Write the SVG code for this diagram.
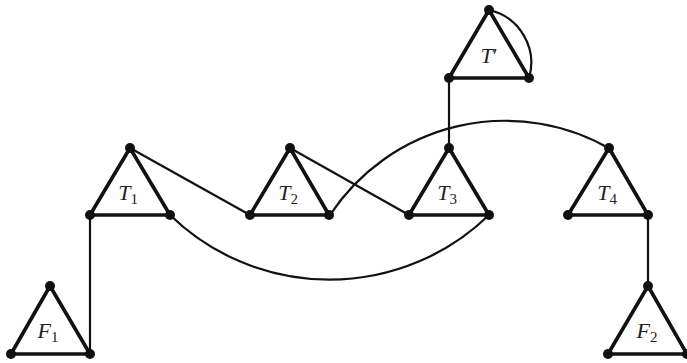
<svg xmlns="http://www.w3.org/2000/svg" width="687" height="363" viewBox="0 0 687 363">
<defs>
<style>
.tri{fill:none;stroke:#111;stroke-width:3.6;stroke-linejoin:round}
.dot{fill:#111}
.edge{fill:none;stroke:#111;stroke-width:2.2}
.lbl{font-family:"Liberation Serif","DejaVu Serif",serif;font-size:22px;fill:#222;text-anchor:middle}
.it{font-style:italic}
.sub{font-size:15px;font-style:normal}
</style>
</defs>
<rect width="687" height="363" fill="#fff"/>
<g id="connectors">
<line class="edge" x1="90" y1="354" x2="90" y2="215"/>
<line class="edge" x1="130" y1="148" x2="250" y2="215"/>
<line class="edge" x1="290" y1="148" x2="409" y2="215"/>
<line class="edge" x1="449" y1="148" x2="449" y2="78"/>
<line class="edge" x1="648" y1="215" x2="648" y2="285"/>
<path class="edge" d="M170,215 A229,229 0 0 0 489,215"/>
<path class="edge" d="M330,215 A210,210 0 0 1 612,150"/>
<path class="edge" d="M489,10 A54,54 0 0 1 529,78"/>
</g>
<g id="Tprime">
<polygon class="tri" points="489,10 449,78 529,78"/>
<circle class="dot" cx="489" cy="10" r="5"/><circle class="dot" cx="449" cy="78" r="5"/><circle class="dot" cx="529" cy="78" r="5"/>
<text class="lbl" x="489" y="63"><tspan class="it">T</tspan>′</text>
</g>
<g id="T1">
<polygon class="tri" points="130,148 90,215 170,215"/>
<circle class="dot" cx="130" cy="148" r="5"/><circle class="dot" cx="90" cy="215" r="5"/><circle class="dot" cx="170" cy="215" r="5"/>
<text class="lbl" x="128" y="200"><tspan class="it">T</tspan><tspan class="sub" dy="4">1</tspan></text>
</g>
<g id="T2">
<polygon class="tri" points="290,148 250,215 329,215"/>
<circle class="dot" cx="290" cy="148" r="5"/><circle class="dot" cx="250" cy="215" r="5"/><circle class="dot" cx="329" cy="215" r="5"/>
<text class="lbl" x="288" y="200"><tspan class="it">T</tspan><tspan class="sub" dy="4">2</tspan></text>
</g>
<g id="T3">
<polygon class="tri" points="449,148 409,215 489,215"/>
<circle class="dot" cx="449" cy="148" r="5"/><circle class="dot" cx="409" cy="215" r="5"/><circle class="dot" cx="489" cy="215" r="5"/>
<text class="lbl" x="447" y="200"><tspan class="it">T</tspan><tspan class="sub" dy="4">3</tspan></text>
</g>
<g id="T4">
<polygon class="tri" points="609,148 568,215 648,215"/>
<circle class="dot" cx="609" cy="148" r="5"/><circle class="dot" cx="568" cy="215" r="5"/><circle class="dot" cx="648" cy="215" r="5"/>
<text class="lbl" x="607" y="200"><tspan class="it">T</tspan><tspan class="sub" dy="4">4</tspan></text>
</g>
<g id="F1">
<polygon class="tri" points="50,286 11,354 90,354"/>
<circle class="dot" cx="50" cy="286" r="5"/><circle class="dot" cx="11" cy="354" r="5"/><circle class="dot" cx="90" cy="354" r="5"/>
<text class="lbl" x="48" y="338"><tspan class="it">F</tspan><tspan class="sub" dy="4">1</tspan></text>
</g>
<g id="F2">
<polygon class="tri" points="648,286 608,354 687,354"/>
<circle class="dot" cx="648" cy="286" r="5"/><circle class="dot" cx="608" cy="354" r="5"/><circle class="dot" cx="687" cy="354" r="5"/>
<text class="lbl" x="647" y="338"><tspan class="it">F</tspan><tspan class="sub" dy="4">2</tspan></text>
</g>
</svg>
